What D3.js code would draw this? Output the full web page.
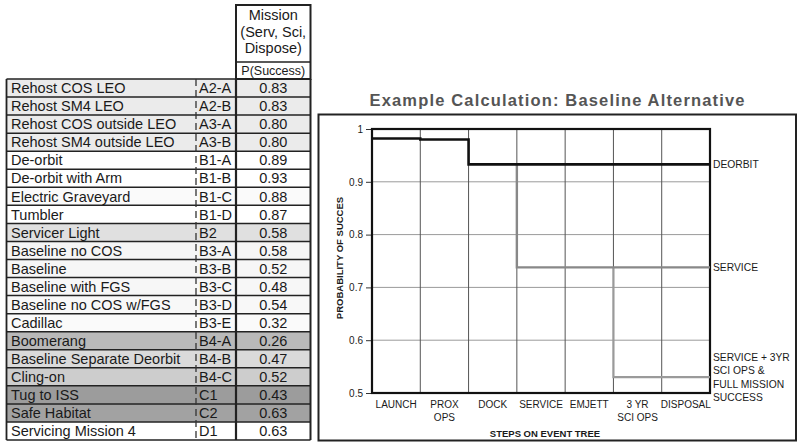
<!DOCTYPE html>
<html><head><meta charset="utf-8">
<script src="https://cdn.jsdelivr.net/npm/d3@7"></script>
<style>
html,body{margin:0;padding:0;background:#fff;}
svg{display:block;font-family:"Liberation Sans",Arial,sans-serif;}
</style></head>
<body>
<svg id="c" width="799" height="448"></svg>
<script>
// ---------- DATA ----------
const altNames = ["Rehost COS LEO","Rehost SM4 LEO","Rehost COS outside LEO","Rehost SM4 outside LEO",
  "De-orbit","De-orbit with Arm","Electric Graveyard","Tumbler","Servicer Light","Baseline no COS",
  "Baseline","Baseline with FGS","Baseline no COS w/FGS","Cadillac","Boomerang",
  "Baseline Separate Deorbit","Cling-on","Tug to ISS","Safe Habitat","Servicing Mission 4"];
const altIds = ["A2-A","A2-B","A3-A","A3-B","B1-A","B1-B","B1-C","B1-D","B2","B3-A",
  "B3-B","B3-C","B3-D","B3-E","B4-A","B4-B","B4-C","C1","C2","D1"];
const altPSuccess = [0.83,0.83,0.80,0.80,0.89,0.93,0.88,0.87,0.58,0.58,
  0.52,0.48,0.54,0.32,0.26,0.47,0.52,0.43,0.63,0.63];
const headerLines = ["Mission","(Serv, Sci,","Dispose)"];
const subHeader = "P(Success)";

const steps = ["LAUNCH","PROX OPS","DOCK","SERVICE","EMJETT","3 YR SCI OPS","DISPOSAL"];
const stepLabels = [["LAUNCH"],["PROX","OPS"],["DOCK"],["SERVICE"],["EMJETT"],["3 YR","SCI OPS"],["DISPOSAL"]];
const yTicks = [0.5,0.6,0.7,0.8,0.9,1];
const yTickLabels = ["0.5","0.6","0.7","0.8","0.9","1"];
// branch series: values per step (null = branch not yet started)
const deorbitVals = [0.982,0.980,0.933,0.933,0.933,0.933,0.933];
const serviceVals = [null,null,null,0.738,0.738,0.738,0.738];
const fullMissionVals = [null,null,null,null,null,0.53,0.53];
const seriesLabels = [["DEORBIT"],["SERVICE"],["SERVICE + 3YR","SCI OPS &","FULL MISSION","SUCCESS"]];
const chartTitle = "Example Calculation: Baseline Alternative";
const yTitle = "PROBABILITY OF SUCCES";
const xTitle = "STEPS ON EVENT TREE";

// ---------- STYLES ----------
const rowShade = ["#ebebeb","#ebebeb","#ebebeb","#ebebeb","#fff","#fff","#fafafa","#fff","#e0e0e0","#f5f5f5",
  "#f6f6f6","#f7f7f7","#f8f8f8","#fafafa","#b9b9b9","#dadada","#cdcdcd","#9c9c9c","#a2a2a2","#fff"];
const ink = "#1a1a1a";

const svg = d3.select("#c");

// ---------- TABLE ----------
const T = {x0:6.5, xDash:196, xId:236, x1:310.5, top:79, rowH:18.05, hTop:5, hSub:62};
const rowY = d3.scaleBand().domain(d3.range(altNames.length))
  .range([T.top, T.top + T.rowH*altNames.length]);
const tbl = svg.append("g");
tbl.selectAll("rect.row").data(altNames).join("rect")
  .attr("x",T.x0).attr("y",(d,i)=>rowY(i)).attr("width",T.x1-T.x0).attr("height",rowY.bandwidth())
  .attr("fill",(d,i)=>rowShade[i]);
// header box
tbl.append("rect").attr("x",T.xId).attr("y",T.hTop).attr("width",T.x1-T.xId).attr("height",T.top-T.hTop)
  .attr("fill","#fff").attr("stroke","#222").attr("stroke-width",2);
tbl.append("line").attr("x1",T.xId).attr("x2",T.x1).attr("y1",T.hSub).attr("y2",T.hSub)
  .attr("stroke","#222").attr("stroke-width",1.5);
tbl.selectAll("text.h").data(headerLines).join("text")
  .attr("x",(T.xId+T.x1)/2).attr("y",(d,i)=>20+i*16.5).attr("text-anchor","middle")
  .attr("font-size",14.5).attr("fill",ink).text(d=>d);
tbl.append("text").attr("x",(T.xId+T.x1)/2).attr("y",75).attr("text-anchor","middle")
  .attr("font-size",12.5).attr("fill",ink).text(subHeader);
// row lines
tbl.selectAll("line.hr").data(d3.range(altNames.length+1)).join("line")
  .attr("x1",T.x0).attr("x2",T.x1)
  .attr("y1",i=>T.top+i*T.rowH).attr("y2",i=>T.top+i*T.rowH)
  .attr("stroke","#222").attr("stroke-width",1.5);
const tb = T.top + T.rowH*altNames.length;
[[T.x0,1.8],[T.xId,2.2],[T.x1,2]].forEach(([x,w])=>{
  tbl.append("line").attr("x1",x).attr("x2",x).attr("y1",T.top).attr("y2",tb)
    .attr("stroke","#222").attr("stroke-width",w);
});
tbl.append("line").attr("x1",T.xDash).attr("x2",T.xDash).attr("y1",T.top).attr("y2",tb)
  .attr("stroke","#333").attr("stroke-width",1.3).attr("stroke-dasharray","7,4");
tbl.selectAll("text.n").data(altNames).join("text")
  .attr("x",11).attr("y",(d,i)=>rowY(i)+rowY.bandwidth()/2+5.2).attr("font-size",14.5).attr("fill",ink).text(d=>d);
tbl.selectAll("text.id").data(altIds).join("text")
  .attr("x",199).attr("y",(d,i)=>rowY(i)+rowY.bandwidth()/2+5.2).attr("font-size",14.5).attr("fill",ink).text(d=>d);
tbl.selectAll("text.v").data(altPSuccess).join("text")
  .attr("x",(T.xId+T.x1)/2).attr("y",(d,i)=>rowY(i)+rowY.bandwidth()/2+5.2).attr("text-anchor","middle")
  .attr("font-size",14.5).attr("fill",ink).text(d=>d3.format(".2f")(d));

// ---------- CHART ----------
svg.append("text").attr("x",557).attr("y",106).attr("text-anchor","middle")
  .attr("font-size",16.5).attr("font-weight","bold").attr("fill","#555")
  .attr("textLength",375).attr("lengthAdjust","spacing").text(chartTitle);
svg.append("rect").attr("x",318.5).attr("y",114.5).attr("width",477.5).attr("height",326)
  .attr("fill","none").attr("stroke","#222").attr("stroke-width",2);

const P = {l:372, r:710, t:129, b:393};
const x = d3.scaleBand().domain(steps).range([P.l,P.r]).paddingInner(0).paddingOuter(0);
const y = d3.scaleLinear().domain([0.5,1]).range([P.b,P.t]);
const bx = i => i < steps.length ? x(steps[i]) : x(steps[steps.length-1]) + x.bandwidth();

const g = svg.append("g");
// horizontal grid
g.selectAll("line.hg").data(yTicks.filter(t=>t>0.5 && t<1)).join("line")
  .attr("x1",P.l).attr("x2",P.r).attr("y1",d=>y(d)).attr("y2",d=>y(d))
  .attr("stroke","#9a9a9a").attr("stroke-width",1);
// vertical grid
g.selectAll("line.vg").data(d3.range(1,steps.length)).join("line")
  .attr("x1",bx).attr("x2",bx).attr("y1",P.t).attr("y2",P.b)
  .attr("stroke","#555").attr("stroke-width",1);

// y axis
const yAxis = d3.axisLeft(y).tickValues(yTicks).tickFormat((d,i)=>yTickLabels[i]).tickSize(6).tickPadding(3);
const ya = g.append("g").attr("transform",`translate(${P.l},0)`).call(yAxis);
ya.select(".domain").remove();
ya.selectAll("line").attr("stroke","#333");
ya.selectAll("text").attr("font-size",10).attr("fill",ink).attr("font-family","Liberation Sans, Arial, sans-serif");

// plot border
g.append("rect").attr("x",P.l).attr("y",P.t).attr("width",P.r-P.l).attr("height",P.b-P.t)
  .attr("fill","none").attr("stroke","#111").attr("stroke-width",2.2);

// x labels
stepLabels.forEach((lines,i)=>{
  g.append("text").attr("x",x(steps[i])+x.bandwidth()/2).attr("y",408).attr("text-anchor","middle")
    .attr("font-size",10).attr("fill",ink)
    .selectAll("tspan").data(lines).join("tspan")
    .attr("x",x(steps[i])+x.bandwidth()/2).attr("dy",(d,j)=>j?13:0).text(d=>d);
});
svg.append("text").attr("x",545).attr("y",436.5).attr("text-anchor","middle")
  .attr("font-size",9.5).attr("font-weight","bold").attr("fill",ink).text(xTitle);
svg.append("text").attr("transform","translate(343,258) rotate(-90)").attr("text-anchor","middle")
  .attr("font-size",9.5).attr("font-weight","bold").attr("fill",ink).text(yTitle);

// step series
function branchPoints(vals, parent){
  const start = vals.findIndex(v=>v!=null);
  const pts = [];
  for(let i=start;i<vals.length;i++){
    const prev = i===start ? (start===0 ? vals[0] : parent[start-1]) : vals[i-1];
    pts.push([bx(i), y(prev)]);
    pts.push([bx(i), y(vals[i])]);
  }
  pts.push([bx(vals.length), y(vals[vals.length-1])]);
  return pts;
}
const line = d3.line();
g.append("path").attr("d",line(branchPoints(fullMissionVals, serviceVals)))
  .attr("fill","none").attr("stroke","#9a9a9a").attr("stroke-width",2.2);
g.append("path").attr("d",line(branchPoints(serviceVals, deorbitVals)))
  .attr("fill","none").attr("stroke","#888").attr("stroke-width",2.4);
g.append("path").attr("d",line(branchPoints(deorbitVals, null)))
  .attr("fill","none").attr("stroke","#111").attr("stroke-width",2.6);

// series end labels
const endY = [y(deorbitVals[6])+3.5, y(serviceVals[6])+3.5, 361];
seriesLabels.forEach((lines,k)=>{
  svg.append("text").attr("x",713).attr("y",endY[k]).attr("font-size",10.3).attr("fill",ink)
    .selectAll("tspan").data(lines).join("tspan")
    .attr("x",713).attr("dy",(d,j)=>j?13.4:0).text(d=>d);
});
</script>
</body></html>
